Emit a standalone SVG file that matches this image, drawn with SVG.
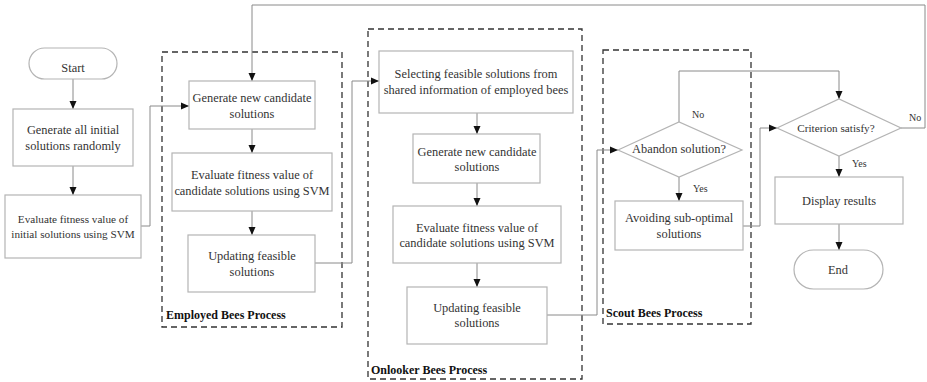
<svg xmlns="http://www.w3.org/2000/svg" width="927" height="382" viewBox="0 0 927 382">
  <defs>
    <marker id="arr" viewBox="0 0 8 8" refX="8" refY="4" markerWidth="8" markerHeight="8" markerUnits="userSpaceOnUse" orient="auto">
      <path d="M0,0.5 L8,4 L0,7.5 Z" fill="#111"/>
    </marker>
    <style>
      .box { fill: #fff; stroke: #b4b4b4; stroke-width: 1.2; }
      .grp { fill: none; stroke: #333; stroke-width: 1.3; stroke-dasharray: 6 4; }
      text { font-family: 'Liberation Serif', 'Times New Roman', Times, 'DejaVu Serif', serif; }
      .t { font-size: 12.4px; fill: #333; text-anchor: middle; }
      .s { font-size: 11.2px; }
      .lbl { font-size: 10px; fill: #333; }
      .gt { font-size: 12px; font-weight: bold; fill: #111; }
      .ca { fill: none; stroke: #8a8a8a; stroke-width: 1; marker-end: url(#arr); }
    </style>
  </defs>
  <rect width="927" height="382" fill="#fff"/>

  <!-- process groups -->
  <g id="employed-group">
    <rect class="grp" x="162" y="52" width="180" height="275"/>
    <text class="gt" x="166" y="319">Employed Bees Process</text>
  </g>
  <g id="onlooker-group">
    <rect class="grp" x="368" y="29" width="214" height="350"/>
    <text class="gt" x="371" y="374">Onlooker Bees Process</text>
  </g>
  <g id="scout-group">
    <rect class="grp" x="603" y="50" width="148" height="274"/>
    <text class="gt" x="606" y="317">Scout Bees Process</text>
  </g>

  <!-- connectors -->
  <g id="connectors">
    <line class="ca" x1="73" y1="79" x2="73" y2="109"/>
    <line class="ca" x1="73" y1="166" x2="73" y2="195"/>
    <polyline class="ca" points="141,226 150,226 150,106 189,106"/>
    <line class="ca" x1="252" y1="129" x2="252" y2="153"/>
    <line class="ca" x1="252" y1="211" x2="252" y2="235"/>
    <polyline class="ca" points="315,263 352,263 352,81 379,81"/>
    <line class="ca" x1="477" y1="113" x2="477" y2="134"/>
    <line class="ca" x1="477" y1="183" x2="477" y2="206"/>
    <line class="ca" x1="477" y1="263" x2="477" y2="287"/>
    <polyline class="ca" points="547,315 597,315 597,150 618,150"/>
    <polyline class="ca" points="679,122 679,71 839,71 839,99"/>
    <line class="ca" x1="679" y1="177" x2="679" y2="201"/>
    <polyline class="ca" points="743,226 760,226 760,128 777,128"/>
    <polyline class="ca" points="901,128 925,128 925,5 252,5 252,81"/>
    <line class="ca" x1="839" y1="156" x2="839" y2="177"/>
    <line class="ca" x1="839" y1="224" x2="839" y2="250"/>
    <text class="lbl" x="692" y="118">No</text>
    <text class="lbl" x="693" y="192">Yes</text>
    <text class="lbl" x="909" y="121">No</text>
    <text class="lbl" x="852" y="167">Yes</text>
  </g>

  <!-- nodes -->
  <g id="start">
    <rect class="box" x="29" y="48" width="88" height="31" rx="15.5"/>
    <text class="t" x="73" y="72">Start</text>
  </g>
  <g id="init-solutions">
    <rect class="box" x="13" y="109" width="120" height="57"/>
    <text class="t" x="73" y="134">Generate all initial</text>
    <text class="t" x="73" y="150">solutions randomly</text>
  </g>
  <g id="init-fitness">
    <rect class="box" x="5" y="195" width="136" height="63"/>
    <text class="t s" x="73" y="223">Evaluate fitness value of</text>
    <text class="t s" x="73" y="238">initial solutions using SVM</text>
  </g>
  <g id="emp-generate">
    <rect class="box" x="189" y="81" width="126" height="48"/>
    <text class="t" x="252" y="102">Generate new candidate</text>
    <text class="t" x="252" y="118">solutions</text>
  </g>
  <g id="emp-evaluate">
    <rect class="box" x="172" y="153" width="160" height="58"/>
    <text class="t" x="252" y="179">Evaluate fitness value of</text>
    <text class="t" x="252" y="195">candidate solutions using SVM</text>
  </g>
  <g id="emp-update">
    <rect class="box" x="188" y="235" width="127" height="57"/>
    <text class="t" x="252" y="260">Updating feasible</text>
    <text class="t" x="252" y="276">solutions</text>
  </g>
  <g id="onl-select">
    <rect class="box" x="379" y="51" width="194" height="62"/>
    <text class="t" x="476" y="78">Selecting feasible solutions from</text>
    <text class="t" x="476" y="94">shared information of employed bees</text>
  </g>
  <g id="onl-generate">
    <rect class="box" x="413" y="134" width="127" height="49"/>
    <text class="t" x="477" y="156">Generate new candidate</text>
    <text class="t" x="477" y="171">solutions</text>
  </g>
  <g id="onl-evaluate">
    <rect class="box" x="393" y="206" width="168" height="57"/>
    <text class="t" x="477" y="232">Evaluate fitness value of</text>
    <text class="t" x="477" y="247">candidate solutions using SVM</text>
  </g>
  <g id="onl-update">
    <rect class="box" x="407" y="287" width="140" height="57"/>
    <text class="t" x="477" y="312">Updating feasible</text>
    <text class="t" x="477" y="327">solutions</text>
  </g>
  <g id="abandon">
    <polygon class="box" points="618,150 679,122 742,150 679,177"/>
    <text class="t" x="679" y="153">Abandon solution?</text>
  </g>
  <g id="avoid">
    <rect class="box" x="615" y="201" width="128" height="49"/>
    <text class="t" x="679" y="222">Avoiding sub-optimal</text>
    <text class="t" x="679" y="238">solutions</text>
  </g>
  <g id="criterion">
    <polygon class="box" points="777,128 839,99 901,128 839,156"/>
    <text class="t s" x="836" y="132">Criterion satisfy?</text>
  </g>
  <g id="display">
    <rect class="box" x="775" y="177" width="128" height="47"/>
    <text class="t" x="839" y="205">Display results</text>
  </g>
  <g id="end">
    <rect class="box" x="794" y="250" width="89" height="39" rx="19.5"/>
    <text class="t" x="838" y="274">End</text>
  </g>
</svg>
